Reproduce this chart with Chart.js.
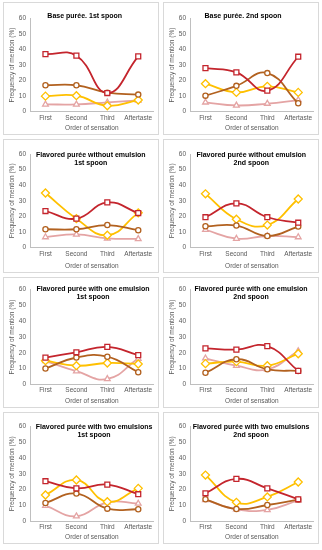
<!DOCTYPE html>
<html><head><meta charset="utf-8">
<script src="https://cdn.jsdelivr.net/npm/chart.js@4.4.0/dist/chart.umd.min.js"></script>
<style>
html,body{margin:0;padding:0;background:#fff;width:322px;height:550px;overflow:hidden;position:relative;}
.panel{position:absolute;border:1px solid #d9d9d9;box-sizing:border-box;}
canvas{position:absolute;}
</style></head><body>
<script>
// ---------- data ----------
const categories = ['First', 'Second', 'Third', 'Aftertaste'];
const yTickValues = [0, 10, 20, 30, 40, 50, 60];
const xAxisTitle = 'Order of sensation';
const yAxisTitle = 'Frequency of mention (%)';

const panelTitles = [
  ['Base purée. 1st spoon'],
  ['Base purée. 2nd spoon'],
  ['Flavored purée without emulsion', '1st spoon'],
  ['Flavored purée without emulsion', '2nd spoon'],
  ['Flavored purée with one emulsion', '1st spoon'],
  ['Flavored purée with one emulsion', '2nd spoon'],
  ['Flavored purée with two emulsions', '1st spoon'],
  ['Flavored purée with two emulsions', '2nd spoon']
];

const base1Red    = [37, 36, 12, 35.5];
const base1Brown  = [17, 17, 12.2, 11];
const base1Yellow = [10, 10.3, 3.8, 7.5];
const base1Pink   = [4.7, 4.7, 6, 7.3];

const base2Red    = [28, 25.3, 13.5, 35.3];
const base2Brown  = [10.3, 16.6, 24.8, 5.4];
const base2Yellow = [18, 12.4, 16.3, 12.4];
const base2Pink   = [6, 4, 5.2, 7.5];

const noEmul1Red    = [23.5, 18.6, 29, 22.2];
const noEmul1Brown  = [11.8, 11.8, 14.5, 11.2];
const noEmul1Yellow = [35, 18.6, 8, 22.3];
const noEmul1Pink   = [6.8, 8.5, 6, 5.6];

const noEmul2Red    = [19.5, 28.4, 19.5, 16];
const noEmul2Brown  = [13.7, 14.2, 7.5, 13.5];
const noEmul2Yellow = [34.5, 18.2, 14.5, 31.2];
const noEmul2Pink   = [11.5, 5.8, 7.5, 6.8];

const oneEmul1Red    = [16.9, 20.3, 23.7, 18.5];
const oneEmul1Brown  = [10, 17, 17.5, 7.6];
const oneEmul1Yellow = [15, 11.8, 13.5, 12.9];
const oneEmul1Pink   = [14.8, 8.3, 3.4, 16.3];

const oneEmul2Red    = [22.8, 22, 24.2, 8.5];
const oneEmul2Brown  = [7.3, 15.9, 9.5, 8.5];
const oneEmul2Yellow = [13.1, 14.4, 11.8, 19.4];
const oneEmul2Pink   = [16.5, 11.8, 9.5, 21.1];

const twoEmul1Red    = [25.3, 20.8, 23.2, 17.1];
const twoEmul1Brown  = [11.6, 17.5, 8, 7.6];
const twoEmul1Yellow = [16.6, 26.1, 12.4, 20.8];
const twoEmul1Pink   = [9.9, 3.2, 12, 11.2];

const twoEmul2Red    = [17.7, 26.8, 20.8, 13.9];
const twoEmul2Brown  = [13.9, 7.8, 10.3, 13.7];
const twoEmul2Yellow = [29.2, 12, 15.4, 24.8];
const twoEmul2Pink   = [13.5, 7.6, 7.2, 13.3];

const panelSeries = [
  [base1Red, base1Brown, base1Yellow, base1Pink],
  [base2Red, base2Brown, base2Yellow, base2Pink],
  [noEmul1Red, noEmul1Brown, noEmul1Yellow, noEmul1Pink],
  [noEmul2Red, noEmul2Brown, noEmul2Yellow, noEmul2Pink],
  [oneEmul1Red, oneEmul1Brown, oneEmul1Yellow, oneEmul1Pink],
  [oneEmul2Red, oneEmul2Brown, oneEmul2Yellow, oneEmul2Pink],
  [twoEmul1Red, twoEmul1Brown, twoEmul1Yellow, twoEmul1Pink],
  [twoEmul2Red, twoEmul2Brown, twoEmul2Yellow, twoEmul2Pink]
];
const seriesNames = ['Series 1', 'Series 2', 'Series 3', 'Series 4'];

// ---------- styles / layout ----------
const FONT = "'Liberation Sans', Arial, sans-serif";
const seriesStyles = [
  {color: '#C4252D', style: 'rect',     radius: 3.5},
  {color: '#B2611F', style: 'circle',   radius: 2.6},
  {color: '#FFC000', style: 'rectRot',  radius: 4},
  {color: '#E4A4A4', style: 'triangle', radius: 3.3}
];
const colLeft = [3, 163];
const panelW = 156;
const rowTop = [2, 139, 277, 412];
const rowH = [133, 134, 131, 132];
const caTopRel = [16.3, 15, 12.7, 14.3];
const caBottomRel = [109.7, 108.7, 107.3, 109.3];
const caLeftRel = 27, caRightRel = 152;
const titlePos = [
  {x: 81.7, y: 13.7}, {x: 80, y: 13.7},
  {x: 87.8, y: 16},   {x: 88.3, y: 16},
  {x: 90, y: 12},     {x: 88, y: 12},
  {x: 91, y: 15.3},   {x: 88, y: 15.3}
];

const panelTitlePlugin = {
  id: 'panelTitle',
  afterDraw(chart, args, opts) {
    const ctx = chart.ctx;
    ctx.save();
    ctx.font = 'bold ' + opts.size + 'px ' + FONT;
    ctx.fillStyle = opts.color;
    ctx.textAlign = 'center';
    ctx.textBaseline = 'middle';
    opts.lines.forEach((t, i) => ctx.fillText(t, opts.x, opts.y + i * opts.lineGap));
    ctx.restore();
  }
};

function makePanel(i) {
  const col = i % 2, row = Math.floor(i / 2);
  const L = colLeft[col], T = rowTop[row], W = panelW, H = rowH[row];
  const div = document.createElement('div');
  div.className = 'panel';
  Object.assign(div.style, {left: L + 'px', top: T + 'px', width: W + 'px', height: H + 'px'});
  document.body.appendChild(div);
  const cv = document.createElement('canvas');
  cv.width = W; cv.height = H;
  Object.assign(cv.style, {left: L + 'px', top: T + 'px', width: W + 'px', height: H + 'px'});
  document.body.appendChild(cv);

  const caT = caTopRel[row], caB = caBottomRel[row];
  const datasets = panelSeries[i].map((vals, k) => ({
    label: seriesNames[k],
    data: vals,
    borderColor: seriesStyles[k].color,
    backgroundColor: '#ffffff',
    pointBackgroundColor: '#ffffff',
    pointBorderColor: seriesStyles[k].color,
    pointStyle: seriesStyles[k].style,
    pointRadius: seriesStyles[k].radius,
    pointBorderWidth: 1.3,
    borderWidth: 1.8,
    tension: 0.45,
    fill: false
  }));
  const tickFont = {family: FONT, size: 6.5};
  new Chart(cv, {
    type: 'line',
    data: {labels: categories, datasets},
    options: {
      responsive: false, animation: false, devicePixelRatio: 1,
      layout: {padding: {left: 0, top: caT, right: W - caRightRel, bottom: 0}},
      plugins: {
        legend: {display: false},
        tooltip: {enabled: false},
        panelTitle: {lines: panelTitles[i], x: titlePos[i].x, y: titlePos[i].y, lineGap: 7.6, size: 7, color: '#000000'}
      },
      scales: {
        x: {
          offset: true,
          grid: {display: false, drawTicks: false},
          border: {display: true, color: '#bfbfbf', width: 1},
          ticks: {font: tickFont, color: '#595959', padding: 2.5, autoSkip: false, maxRotation: 0},
          title: {display: true, text: xAxisTitle, font: tickFont, color: '#595959', padding: {top: 0, bottom: 3}},
          afterFit: s => { s.height = H - caB; }
        },
        y: {
          min: 0, max: 60,
          grid: {display: false, drawTicks: false},
          border: {display: true, color: '#bfbfbf', width: 1},
          ticks: {font: tickFont, color: '#595959', padding: 4},
          afterBuildTicks: s => { s.ticks = yTickValues.map(v => ({value: v})); },
          title: {display: true, text: yAxisTitle, font: tickFont, color: '#595959', padding: {top: 5, bottom: 0}},
          afterFit: s => { s.width = caLeftRel; }
        }
      }
    },
    plugins: [panelTitlePlugin]
  });
}
for (let i = 0; i < 8; i++) makePanel(i);
</script>
</body></html>
